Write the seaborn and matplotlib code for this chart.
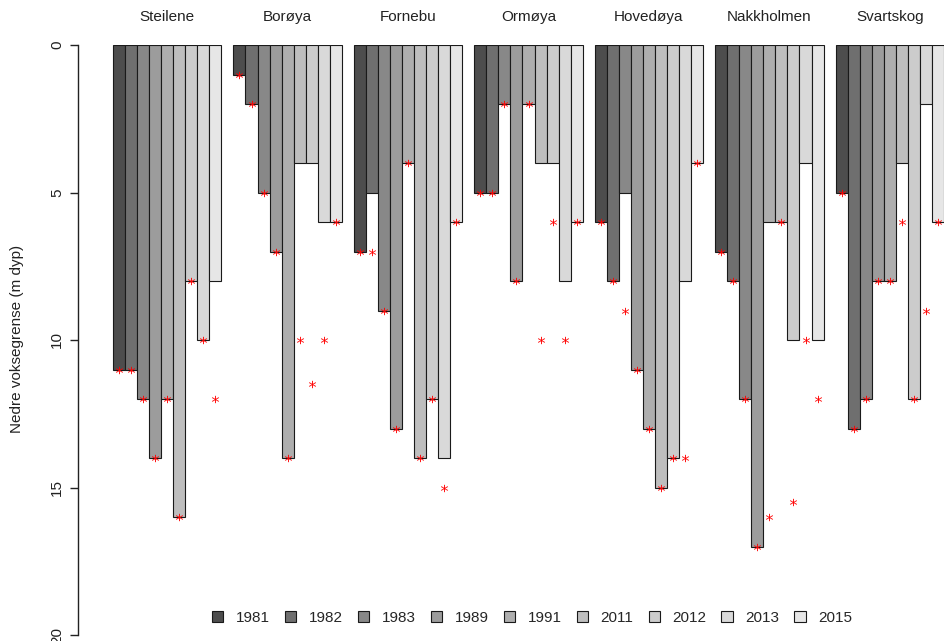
import matplotlib
matplotlib.use("Agg")
import matplotlib.pyplot as plt
import seaborn as sns
import pandas as pd

sites = ["Steilene", "Borøya", "Fornebu", "Ormøya", "Hovedøya", "Nakkholmen", "Svartskog"]
years = ["1981", "1982", "1983", "1989", "1991", "2011", "2012", "2013", "2015"]

# bar depths (m) per site, in year order
steilene_bars = [11, 11, 12, 14, 12, 16, 8, 10, 8]
boroya_bars = [1, 2, 5, 7, 14, 4, 4, 6, 6]
fornebu_bars = [7, 5, 9, 13, 4, 14, 12, 14, 6]
ormoya_bars = [5, 5, 2, 8, 2, 4, 4, 8, 6]
hovedoya_bars = [6, 8, 5, 11, 13, 15, 14, 8, 4]
nakkholmen_bars = [7, 8, 12, 17, 6, 6, 10, 4, 10]
svartskog_bars = [5, 13, 12, 8, 8, 4, 12, 2, 6]

# red star depths (m) per site, in year order
steilene_stars = [11, 11, 12, 14, 12, 16, 8, 10, 12]
boroya_stars = [1, 2, 5, 7, 14, 10, 11.5, 10, 6]
fornebu_stars = [7, 7, 9, 13, 4, 14, 12, 15, 6]
ormoya_stars = [5, 5, 2, 8, 2, 10, 6, 10, 6]
hovedoya_stars = [6, 8, 9, 11, 13, 15, 14, 14, 4]
nakkholmen_stars = [7, 8, 12, 17, 16, 6, 15.5, 10, 12]
svartskog_stars = [5, 13, 12, 8, 8, 6, 12, 9, 6]

bars = [steilene_bars, boroya_bars, fornebu_bars, ormoya_bars,
        hovedoya_bars, nakkholmen_bars, svartskog_bars]
stars = [steilene_stars, boroya_stars, fornebu_stars, ormoya_stars,
         hovedoya_stars, nakkholmen_stars, svartskog_stars]

colors = ["#4D4D4D", "#6F6F6F", "#888888", "#9C9C9C", "#AEAEAE",
          "#BEBEBE", "#CCCCCC", "#D9D9D9", "#E6E6E6"]

rows = []
for s, bvals, svals in zip(sites, bars, stars):
    for y, b, st in zip(years, bvals, svals):
        rows.append({"site": s, "year": y, "depth": b, "star": st})
df = pd.DataFrame(rows)

sns.set_style("white")
plt.rcParams["font.family"] = ["Liberation Sans", "DejaVu Sans"]

W, H = 944, 641
fig = plt.figure(figsize=(W / 100, H / 100), dpi=100)
ax_left, ax_right, ax_top, ax_bot = 78, 944, 45, 635
ax = fig.add_axes([ax_left / W, 1 - ax_bot / H, (ax_right - ax_left) / W, (ax_bot - ax_top) / H])

sns.barplot(data=df, x="site", y="depth", hue="year", order=sites, hue_order=years,
            palette=colors, width=0.9, saturation=1, edgecolor="#1a1a1a",
            linewidth=0.8, errorbar=None, legend=False, ax=ax)

# stars at the centre of each bar
for yi, cont in enumerate(ax.containers):
    for si, patch in enumerate(cont.patches):
        xc = patch.get_x() + patch.get_width() / 2
        ax.scatter([xc], [stars[si][yi]], marker="$*$", s=28, color="red",
                   linewidths=0, zorder=5, clip_on=False)

ax.set_xlim(-0.45 - 35 / 120.4, 6.45)
ax.set_ylim(20, 0)
ax.set_yticks([0, 5, 10, 15, 20])
ax.set_yticklabels(["0", "5", "10", "15", "20"], rotation=90, va="center", fontsize=11,
                   color="#222222")
ax.tick_params(axis="y", left=True, length=6, width=1, pad=4, color="#222222")
ax.tick_params(axis="x", bottom=False, labelbottom=False, top=False, labeltop=True,
               length=0, pad=15, labelsize=11, labelcolor="#222222")
ax.set_xlabel("")
ax.set_ylabel("")
for sp in ["top", "right", "bottom"]:
    ax.spines[sp].set_visible(False)
ax.spines["left"].set_color("#222222")
ax.spines["left"].set_linewidth(1)

fig.text(17 / W, 1 - 339 / H, "Nedre voksegrense (m dyp)", rotation=90,
         ha="center", va="center", fontsize=11, color="#222222")

handles = [c.patches[0] for c in ax.containers]
fig.legend(handles, years, loc="center", bbox_to_anchor=(532 / W, 1 - 618 / H),
           ncol=9, frameon=False, fontsize=11, handlelength=0.75, handleheight=0.75,
           handletextpad=0.8, columnspacing=1.0, borderpad=0)

fig.savefig("out.png", dpi=100)
